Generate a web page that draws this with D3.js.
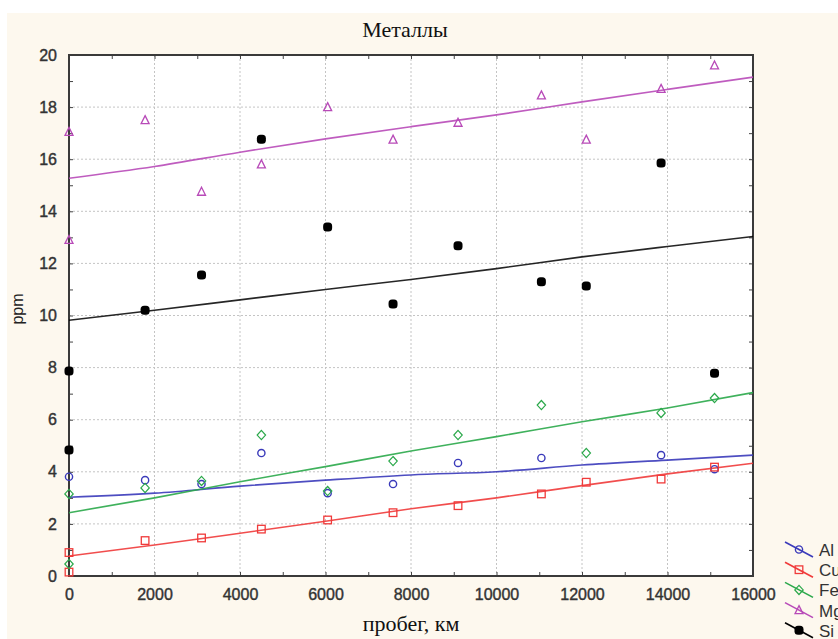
<!DOCTYPE html>
<html>
<head>
<meta charset="utf-8">
<script src="https://cdn.jsdelivr.net/npm/d3@7"></script>
<style>
  body { margin: 0; background: #ffffff; }
  svg { display: block; }
</style>
</head>
<body>
<div id="vis"></div>
<script>
// mileage, km (x) and measured concentrations, ppm
const mileage = [0, 1780, 3100, 4500, 6050, 7580, 9100, 11050, 12100, 13850, 15100];

const alPoints = [[0, 3.81], [1780, 3.68], [3100, 3.53], [4500, 4.72], [6050, 3.18], [7580, 3.53],
                  [9100, 4.34], [11050, 4.53], [13850, 4.64], [15100, 4.1]];
const cuPoints = [[0, 0.9], [0, 0.15], [1780, 1.36], [3100, 1.46], [4500, 1.8], [6050, 2.15], [7580, 2.43],
                  [9100, 2.7], [11050, 3.15], [12100, 3.6], [13850, 3.72], [15100, 4.18]];
const fePoints = [[0, 3.15], [0, 0.46], [1780, 3.38], [3100, 3.65], [4500, 5.41], [6050, 3.26], [7580, 4.41],
                  [9100, 5.41], [11050, 6.56], [12100, 4.72], [13850, 6.26], [15100, 6.83]];
const mgPoints = [[0, 17.05], [0, 12.9], [1780, 17.5], [3100, 14.75], [4500, 15.8], [6050, 18.0], [7580, 16.75],
                  [9100, 17.4], [11050, 18.45], [12100, 16.75], [13850, 18.7], [15100, 19.6]];
const siPoints = [[0, 7.87], [0, 4.84], [1780, 10.2], [3100, 11.55], [4500, 16.77], [6050, 13.4], [7580, 10.44],
                  [9100, 12.68], [11050, 11.3], [12100, 11.13], [13850, 15.85], [15100, 7.78]];

// fitted curves, read at every 2000 km
const fitX  = [0, 2000, 4000, 6000, 8000, 10000, 12000, 14000, 16000];
const alFit = [3.02, 3.18, 3.45, 3.68, 3.88, 4.0, 4.26, 4.45, 4.64];
const cuFit = [0.77, 1.19, 1.64, 2.1, 2.58, 3.0, 3.47, 3.92, 4.33];
const feFit = [2.43, 3.0, 3.62, 4.2, 4.8, 5.35, 5.92, 6.45, 7.04];
const mgFit = [15.27, 15.72, 16.27, 16.78, 17.25, 17.7, 18.2, 18.68, 19.15];
const siFit = [9.82, 10.2, 10.6, 11.0, 11.38, 11.8, 12.25, 12.65, 13.03];

const metals  = ["Al", "Cu", "Fe", "Mg", "Si"];
const xTicks  = [0, 2000, 4000, 6000, 8000, 10000, 12000, 14000, 16000];
const yTicks  = [0, 2, 4, 6, 8, 10, 12, 14, 16, 18, 20];

const series = [
  {name: "Al", color: "#3a3aba", marker: "circle",   points: alPoints, fit: alFit},
  {name: "Cu", color: "#f03a3a", marker: "square",   points: cuPoints, fit: cuFit},
  {name: "Fe", color: "#2aa84a", marker: "diamond",  points: fePoints, fit: feFit},
  {name: "Mg", color: "#b84ab8", marker: "triangle", points: mgPoints, fit: mgFit},
  {name: "Si", color: "#000000", marker: "dot",      points: siPoints, fit: siFit}
];

const width = 838, height = 639;
const plot = {left: 69, top: 55, right: 753, bottom: 576};

const svg = d3.select("#vis").append("svg")
    .attr("width", width)
    .attr("height", height);

svg.append("rect")
    .attr("x", 7).attr("y", 13)
    .attr("width", width - 7).attr("height", height - 13)
    .attr("fill", "#fdf8ee");

svg.append("rect")
    .attr("x", plot.left).attr("y", plot.top)
    .attr("width", plot.right - plot.left).attr("height", plot.bottom - plot.top)
    .attr("fill", "#ffffff");

const x = d3.scaleLinear().domain([0, 16000]).range([plot.left, plot.right]);
const y = d3.scaleLinear().domain([0, 20]).range([plot.bottom, plot.top]);

// dotted grid
const grid = svg.append("g");
grid.selectAll(".gx").data(xTicks.slice(1, -1)).enter()
    .append("line")
    .attr("x1", d => x(d)).attr("x2", d => x(d))
    .attr("y1", plot.top).attr("y2", plot.bottom)
    .attr("stroke", "#c4c4c4").attr("stroke-width", 1)
    .attr("stroke-dasharray", "2,2");
grid.selectAll(".gy").data(yTicks.slice(1, -1)).enter()
    .append("line")
    .attr("x1", plot.left).attr("x2", plot.right)
    .attr("y1", d => y(d)).attr("y2", d => y(d))
    .attr("stroke", "#c4c4c4").attr("stroke-width", 1)
    .attr("stroke-dasharray", "2,2");

// axes with inward ticks on all four sides
const minorX = d3.range(0, 16001, 1000);
const minorY = d3.range(0, 21, 1);
const tickFont = "'Liberation Sans', Arial, sans-serif";

function styleAxis(g){
    g.select(".domain").remove();
    g.selectAll("line").attr("stroke", "#444").attr("stroke-width", 1);
    g.selectAll("text")
        .attr("font-family", tickFont)
        .attr("font-size", 16)
        .attr("fill", "#333")
        .attr("stroke", "#333").attr("stroke-width", 0.4);
}

svg.append("g")
    .attr("transform", `translate(0,${plot.bottom})`)
    .call(d3.axisBottom(x).tickValues(minorX).tickSize(-4).tickPadding(13)
        .tickFormat(d => xTicks.includes(d) ? d : ""))
    .call(styleAxis);
svg.append("g")
    .attr("transform", `translate(0,${plot.top})`)
    .call(d3.axisTop(x).tickValues(minorX).tickSize(-4).tickFormat(""))
    .call(styleAxis);
svg.append("g")
    .attr("transform", `translate(${plot.left},0)`)
    .call(d3.axisLeft(y).tickValues(minorY).tickSize(-4).tickPadding(12)
        .tickFormat(d => yTicks.includes(d) ? d : ""))
    .call(styleAxis);
svg.append("g")
    .attr("transform", `translate(${plot.right},0)`)
    .call(d3.axisRight(y).tickValues(minorY).tickSize(-4).tickFormat(""))
    .call(styleAxis);

// frame
svg.append("rect")
    .attr("x", plot.left).attr("y", plot.top)
    .attr("width", plot.right - plot.left).attr("height", plot.bottom - plot.top)
    .attr("fill", "none").attr("stroke", "#3a3a3a").attr("stroke-width", 2);

// marker drawing
function drawMarker(g, type, color, cx, cy){
    if (type === "circle"){
        g.append("circle").attr("cx", cx).attr("cy", cy).attr("r", 3.6)
            .attr("fill", "none").attr("stroke", color).attr("stroke-width", 1.4);
    } else if (type === "square"){
        g.append("rect").attr("x", cx - 3.8).attr("y", cy - 3.8).attr("width", 7.6).attr("height", 7.6)
            .attr("fill", "none").attr("stroke", color).attr("stroke-width", 1.3);
    } else if (type === "diamond"){
        g.append("path").attr("d", `M${cx},${cy - 4.6}L${cx + 4.2},${cy}L${cx},${cy + 4.6}L${cx - 4.2},${cy}Z`)
            .attr("fill", "none").attr("stroke", color).attr("stroke-width", 1.2);
    } else if (type === "triangle"){
        g.append("path").attr("d", `M${cx},${cy - 4.5}L${cx + 4},${cy + 3.5}L${cx - 4},${cy + 3.5}Z`)
            .attr("fill", "none").attr("stroke", color).attr("stroke-width", 1.3);
    } else {
        g.append("rect").attr("x", cx - 4.5).attr("y", cy - 4.5).attr("width", 9).attr("height", 9)
            .attr("rx", 3.5).attr("fill", color);
    }
}

const line = d3.line().curve(d3.curveMonotoneX);
const marks = svg.append("g");

series.forEach(s => {
    marks.append("path")
        .datum(fitX.map((fx, i) => [x(fx), y(s.fit[i])]))
        .attr("d", line)
        .attr("fill", "none")
        .attr("stroke", s.color)
        .attr("stroke-width", 1.6)
        .attr("opacity", s.name === "Si" ? 0.85 : 0.9);
});

series.forEach(s => {
    const g = marks.append("g");
    s.points.forEach(p => drawMarker(g, s.marker, s.color, x(p[0]), y(p[1])));
});

// titles
svg.append("text")
    .attr("x", 405).attr("y", 37)
    .attr("text-anchor", "middle")
    .attr("font-family", "'Liberation Serif', 'Times New Roman', serif")
    .attr("font-size", 22)
    .attr("fill", "#111")
    .text("Металлы");

svg.append("text")
    .attr("x", 411).attr("y", 631)
    .attr("text-anchor", "middle")
    .attr("font-family", "'Liberation Serif', 'Times New Roman', serif")
    .attr("font-size", 22)
    .attr("fill", "#111")
    .text("пробег, км");

svg.append("text")
    .attr("transform", "translate(23,309) rotate(-90)")
    .attr("text-anchor", "middle")
    .attr("font-family", tickFont)
    .attr("font-size", 16)
    .attr("fill", "#222")
    .text("ppm");

// legend (labels run past the right edge, as in the source picture)
const legend = svg.append("g");
series.forEach((s, i) => {
    const cy = 549 + i * 20.2;
    legend.append("line")
        .attr("x1", 785).attr("y1", cy - 7)
        .attr("x2", 813).attr("y2", cy + 8)
        .attr("stroke", s.color).attr("stroke-width", 1.6);
    drawMarker(legend, s.marker, s.color, 799, cy + 0.5);
    legend.append("text")
        .attr("x", 819).attr("y", cy + 7)
        .attr("font-family", tickFont)
        .attr("font-size", 17)
        .attr("fill", "#333")
        .text(metals[i]);
});
</script>
</body>
</html>
